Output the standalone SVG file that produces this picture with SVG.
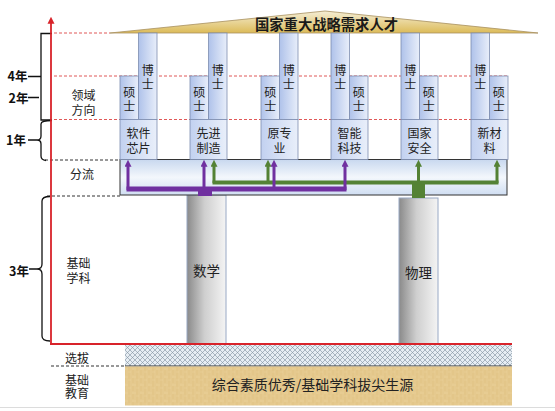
<svg xmlns="http://www.w3.org/2000/svg" width="555" height="411" viewBox="0 0 555 411">
<defs>
<style>
.t{font-family:"Noto Sans CJK SC","Noto Sans",sans-serif;fill:#222;text-anchor:middle}
.s12{font-size:12px}
.s13{font-size:13.5px}
.v{font-family:"Noto Sans CJK SC","Noto Sans",sans-serif;fill:#222;font-size:12px;writing-mode:vertical-rl;letter-spacing:2px;text-anchor:start}
.yr{font-family:"Noto Sans CJK SC","Liberation Sans",sans-serif;font-size:12.5px;font-weight:bold;fill:#111}
.box{fill:url(#colGrad);stroke:#7d8db0;stroke-width:0.8}
.dom{fill:url(#domGrad);stroke:#7d8db0;stroke-width:0.8}
.pil{fill:url(#pilGrad);stroke:#98a8c4;stroke-width:1}
.rdash{stroke:#e05858;stroke-width:1;stroke-dasharray:3 2;fill:none}
.kdash{stroke:#333;stroke-width:1;stroke-dasharray:3 2;fill:none}
.brace{stroke:#111;stroke-width:1.3;fill:none}
.pv{stroke:#7030a0;stroke-width:3;fill:none}
.gv{stroke:#548235;stroke-width:3;fill:none}
</style>
<linearGradient id="colGrad" x1="0" y1="0" x2="1" y2="0">
<stop offset="0" stop-color="#afc2ea"/><stop offset="1" stop-color="#e8eefa"/>
</linearGradient>
<linearGradient id="domGrad" x1="0" y1="0" x2="1" y2="0">
<stop offset="0" stop-color="#c2d1f0"/><stop offset="1" stop-color="#e9effa"/>
</linearGradient>
<linearGradient id="splitGrad" x1="0" y1="0" x2="0" y2="1">
<stop offset="0" stop-color="#c8d8ef"/><stop offset="0.5" stop-color="#f3f7fc"/><stop offset="1" stop-color="#d0def2"/>
</linearGradient>
<linearGradient id="pilGrad" x1="0" y1="0" x2="1" y2="0">
<stop offset="0" stop-color="#8a8a8a"/><stop offset="0.45" stop-color="#cfcfcf"/><stop offset="1" stop-color="#f4f4f4"/>
</linearGradient>
<linearGradient id="roofGrad" x1="0" y1="0" x2="0" y2="1">
<stop offset="0" stop-color="#f5eed6"/><stop offset="1" stop-color="#dcbb58"/>
</linearGradient>
<pattern id="hatch" width="5" height="5" patternUnits="userSpaceOnUse">
<rect width="5" height="5" fill="#e6edf3"/>
<path d="M0,0 L5,5 M5,0 L0,5" stroke="#7f8e9e" stroke-width="0.6"/>
</pattern>
<pattern id="tan" width="8" height="8" patternUnits="userSpaceOnUse">
<rect width="8" height="8" fill="#e5c98e"/>
<path d="M1,0 V8 M5,2 V7" stroke="#d6b575" stroke-width="0.6" opacity="0.6"/>
<path d="M0,4 H3 M4,1 H8" stroke="#efd9a8" stroke-width="0.6" opacity="0.6"/>
</pattern>
<marker id="ap" viewBox="0 0 10 10" refX="1" refY="5" markerWidth="7" markerHeight="7" markerUnits="userSpaceOnUse" orient="auto">
<path d="M0,0 L10,5 L0,10 z" fill="#7030a0"/>
</marker>
<marker id="ag" viewBox="0 0 10 10" refX="1" refY="5" markerWidth="7" markerHeight="7" markerUnits="userSpaceOnUse" orient="auto">
<path d="M0,0 L10,5 L0,10 z" fill="#548235"/>
</marker>
<marker id="ar" viewBox="0 0 10 10" refX="1" refY="5" markerWidth="7" markerHeight="8" markerUnits="userSpaceOnUse" orient="auto">
<path d="M0,0 L10,5 L0,10 z" fill="#d8232a"/>
</marker>
</defs>

<rect width="555" height="411" fill="#fff"/>

<!-- guide lines -->
<g id="guides">
<path class="rdash" d="M54,33 H110 M54,76 H508 M54,119.5 H508"/>
<path class="kdash" d="M45,160 H120 M47,196 H120 M51,366 H125"/>
</g>

<!-- braces and year labels -->
<g id="braces">
<path class="brace" d="M52,33.5 H41 V120 H52"/>
<path class="brace" d="M28,76.5 H41 M28,97.5 H39"/>
<path class="brace" d="M52,120.5 Q41,120.5 41,124 V136 Q41,140 37,140 H28 M37,140 Q41,140 41,144 V156 Q41,160 46,160.5"/>
<path class="brace" d="M50,196.5 Q42,196.5 42,201 V264 Q42,269 37,269 H29 M37,269 Q42,269 42,274 V336 Q42,341 50,341"/>
<text class="yr" x="17.5" y="81" text-anchor="middle">4年</text>
<text class="yr" x="18.5" y="103" text-anchor="middle">2年</text>
<text class="yr" x="16" y="144.5" text-anchor="middle">1年</text>
<text class="yr" x="19" y="275.5" text-anchor="middle">3年</text>
</g>

<!-- left labels -->
<g id="labels">
<text class="t s12"><tspan x="83.5" y="99.5">领域</tspan><tspan x="83.5" dy="15">方向</tspan></text>
<text class="t s12" x="82" y="178.5">分流</text>
<text class="t s12"><tspan x="78.5" y="268">基础</tspan><tspan x="78.5" dy="15">学科</tspan></text>
<text class="t s12" x="77" y="362.5">选拔</text>
<text class="t s12"><tspan x="77" y="384.5">基础</tspan><tspan x="77" dy="13">教育</tspan></text>
</g>

<!-- roof -->
<g id="roof">
<polygon points="110,33 325,11 538,33" fill="url(#roofGrad)" stroke="#a89060" stroke-width="0.8"/>
<text x="326.5" y="30" font-family="Noto Sans CJK SC, sans-serif" font-size="14.3" font-weight="bold" fill="#1a1a1a" text-anchor="middle">国家重大战略需求人才</text>
</g>

<!-- base layers -->
<g id="base">
<rect x="125" y="344" width="387" height="22" fill="url(#hatch)"/>
<line x1="125" y1="366" x2="512" y2="366" stroke="#333" stroke-width="1"/>
<rect x="125" y="366.5" width="387" height="39" fill="url(#tan)"/>
<text class="t" x="312.5" y="390" font-size="14">综合素质优秀/基础学科拔尖生源</text>
<line x1="0" y1="407.5" x2="555" y2="407.5" stroke="#dcdcdc" stroke-width="1"/>
</g>

<!-- pillars -->
<g id="pillar-math">
<rect class="pil" x="187" y="195" width="39" height="149"/>
<text class="t s13" x="206.5" y="276">数学</text>
</g>
<g id="pillar-phys">
<rect class="pil" x="399" y="198" width="39" height="146"/>
<text class="t s13" x="418.5" y="278">物理</text>
</g>

<!-- axis -->
<g id="axis">
<line x1="51" y1="344" x2="51" y2="23" stroke="#d8232a" stroke-width="1.8" marker-end="url(#ar)"/>
<line x1="50" y1="344" x2="512" y2="344" stroke="#d8232a" stroke-width="2"/>
</g>

<!-- split box -->
<g id="split">
<rect x="120" y="159.5" width="387" height="35.5" fill="url(#splitGrad)" stroke="#333" stroke-width="1"/>
</g>

<!-- columns -->
<g id="col-software">
<rect class="box" x="120" y="76" width="18.5" height="43.5"/>
<rect class="box" x="138.5" y="33" width="18.5" height="86.5"/>
<rect class="dom" x="120" y="119.5" width="37" height="40"/>
<text class="v" x="129.3" y="86">硕士</text>
<text class="v" x="147.8" y="64.5">博士</text>
<text class="t s12"><tspan x="138.5" y="137.5">软件</tspan><tspan x="138.5" dy="15">芯片</tspan></text>
</g>
<g id="col-manufacturing">
<rect class="box" x="190" y="76" width="18.5" height="43.5"/>
<rect class="box" x="208.5" y="33" width="18.5" height="86.5"/>
<rect class="dom" x="190" y="119.5" width="37" height="40"/>
<text class="v" x="199.3" y="86">硕士</text>
<text class="v" x="217.8" y="64.5">博士</text>
<text class="t s12"><tspan x="208.5" y="137.5">先进</tspan><tspan x="208.5" dy="15">制造</tspan></text>
</g>
<g id="col-original">
<rect class="box" x="261" y="76" width="18.5" height="43.5"/>
<rect class="box" x="279.5" y="33" width="18.5" height="86.5"/>
<rect class="dom" x="261" y="119.5" width="37" height="40"/>
<text class="v" x="270.3" y="86">硕士</text>
<text class="v" x="288.8" y="64.5">博士</text>
<text class="t s12"><tspan x="279.5" y="137.5">原专</tspan><tspan x="279.5" dy="15">业</tspan></text>
</g>
<g id="col-ai">
<rect class="box" x="331" y="33" width="18.5" height="86.5"/>
<rect class="box" x="349.5" y="76" width="18.5" height="43.5"/>
<rect class="dom" x="331" y="119.5" width="37" height="40"/>
<text class="v" x="340.3" y="64.5">博士</text>
<text class="v" x="358.8" y="86">硕士</text>
<text class="t s12"><tspan x="349.5" y="137.5">智能</tspan><tspan x="349.5" dy="15">科技</tspan></text>
</g>
<g id="col-security">
<rect class="box" x="401" y="33" width="18.5" height="86.5"/>
<rect class="box" x="419.5" y="76" width="18.5" height="43.5"/>
<rect class="dom" x="401" y="119.5" width="37" height="40"/>
<text class="v" x="410.3" y="64.5">博士</text>
<text class="v" x="428.8" y="86">硕士</text>
<text class="t s12"><tspan x="419.5" y="137.5">国家</tspan><tspan x="419.5" dy="15">安全</tspan></text>
</g>
<g id="col-materials">
<rect class="box" x="471" y="33" width="18.5" height="86.5"/>
<rect class="box" x="489.5" y="76" width="18.5" height="43.5"/>
<rect class="dom" x="471" y="119.5" width="37" height="40"/>
<text class="v" x="480.3" y="64.5">博士</text>
<text class="v" x="498.8" y="86">硕士</text>
<text class="t s12"><tspan x="489.5" y="137.5">新材</tspan><tspan x="489.5" dy="15">料</tspan></text>
</g>

<!-- connectors -->
<g id="connectors">
<rect x="412" y="181" width="13" height="17" fill="#548235"/>
<line x1="212.5" y1="182.5" x2="498.5" y2="182.5" stroke="#548235" stroke-width="4"/>
<path class="gv" d="M214,183 V166" marker-end="url(#ag)"/>
<path class="gv" d="M268,183 V166" marker-end="url(#ag)"/>
<path class="gv" d="M418.5,183 V166" marker-end="url(#ag)"/>
<path class="gv" d="M497,183 V166" marker-end="url(#ag)"/>
<rect x="198" y="187" width="14" height="9" fill="#7030a0"/>
<line x1="126.5" y1="189" x2="346.5" y2="189" stroke="#7030a0" stroke-width="5"/>
<path class="pv" d="M128,190 V166" marker-end="url(#ap)"/>
<path class="pv" d="M204,190 V166" marker-end="url(#ap)"/>
<path class="pv" d="M274,190 V166" marker-end="url(#ap)"/>
<path class="pv" d="M345,190 V166" marker-end="url(#ap)"/>
</g>
</svg>
